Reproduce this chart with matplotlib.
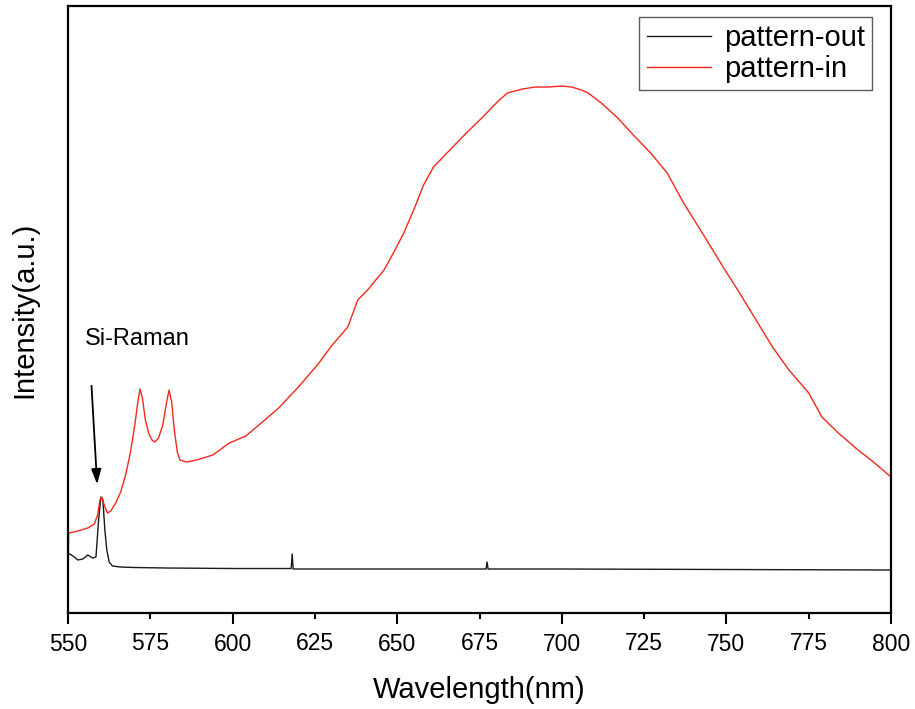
import matplotlib.pyplot as plt
from matplotlib.ticker import NullLocator

plt.rcParams['font.family'] = ['Liberation Sans', 'DejaVu Sans']

# pattern-out (black), wavelength in nm and intensity in a.u.
out_wl = [550.0, 551.5, 553.0, 554.5, 556.0, 557.5, 558.5, 559.3, 560.0, 560.6,
          561.2, 561.8, 562.5, 563.5, 566, 570, 580, 600, 617.8, 618.1, 618.4,
          640, 660, 677.0, 677.3, 677.6, 700, 750, 800]
out_int = [60, 57, 53, 54, 58, 55, 56, 93, 116, 113,
           83, 63, 51, 47, 46, 45.5, 45, 44.5, 44.5, 59, 44,
           44, 44, 44, 51, 44, 44, 43.5, 43]

# pattern-in (red)
in_wl = [550.0, 550.2, 553, 556, 558, 559.0, 559.7, 560.3, 561.0, 562.0, 563.0,
         564.5, 566, 567.5, 569, 570.3, 571.3, 571.9, 572.6, 573.5, 574.5,
         575.5, 576.4, 577.5, 578.8, 579.8, 580.7, 581.5, 582.3, 583.2, 584.0,
         586, 589, 594, 599, 604, 608, 614, 620, 626, 630, 635, 638, 641, 646,
         649, 652, 655, 658, 661, 666, 671, 676, 681, 683.5, 688, 692, 696,
         700, 703, 706, 708, 712, 717, 722, 727, 732, 737, 744, 749, 754, 759,
         764, 769, 775, 779, 784, 790, 795, 800]
in_int = [38, 80, 82, 85, 89, 98, 113, 116, 108, 100, 102,
          110, 121, 138, 161, 188, 213, 224, 215, 193, 180,
          173, 171, 175, 188, 208, 223, 211, 183, 161, 153,
          151, 153, 158, 170, 177, 188, 205, 226, 249, 267, 286, 313, 323, 343,
          361, 380, 403, 428, 446, 463, 480, 496, 513, 520, 524, 526, 526,
          527, 526, 523, 520, 510, 495, 477, 460, 440, 410, 373, 346, 320, 293,
          266, 243, 220, 196, 180, 163, 150, 136]

xticks_major = [550, 600, 650, 700, 750, 800]
xticks_minor = [575, 625, 675, 725, 775]

fig = plt.figure(figsize=(9.15, 7.09), dpi=100)
ax = fig.add_axes([0.0743, 0.1354, 0.8995, 0.8561])

ax.plot(out_wl, out_int, color='#1a1a1a', lw=1.0, label='pattern-out')
ax.plot(in_wl, in_int, color='#f5281c', lw=1.0, label='pattern-in')

ax.set_xlim(550, 800)
ax.set_ylim(0, 607)

ax.set_xticks(xticks_major)
ax.set_xticklabels([str(t) for t in xticks_major])
ax.set_xticks(xticks_minor, minor=True)
ax.set_xticklabels([str(t) for t in xticks_minor], minor=True)
ax.yaxis.set_major_locator(NullLocator())
ax.tick_params(axis='x', which='major', direction='out', length=8, width=1.5,
               labelsize=16.5, pad=6.5)
ax.tick_params(axis='x', which='minor', direction='out', length=4.5, width=1.5,
               labelsize=16.5, pad=9)
for sp in ax.spines.values():
    sp.set_linewidth(1.6)

ax.set_xlabel('Wavelength(nm)', fontsize=21, labelpad=14)
ax.set_ylabel('Intensity(a.u.)', fontsize=21, labelpad=21)

ax.text(555.2, 268, 'Si-Raman', fontsize=17, ha='left', va='baseline')
ax.annotate('', xy=(558.9, 126), xytext=(557.1, 230),
            arrowprops=dict(arrowstyle='-|>,head_length=0.9,head_width=0.3',
                            color='black', lw=1.3))

leg = ax.legend(loc='upper right', bbox_to_anchor=(0.977, 0.982), fontsize=21,
                frameon=True, fancybox=False, borderaxespad=0, borderpad=0.25,
                handlelength=2.2, handletextpad=0.45, labelspacing=0.1)
leg.get_frame().set_edgecolor('#333333')
leg.get_frame().set_linewidth(1.0)

fig.savefig('out.png', dpi=100)
